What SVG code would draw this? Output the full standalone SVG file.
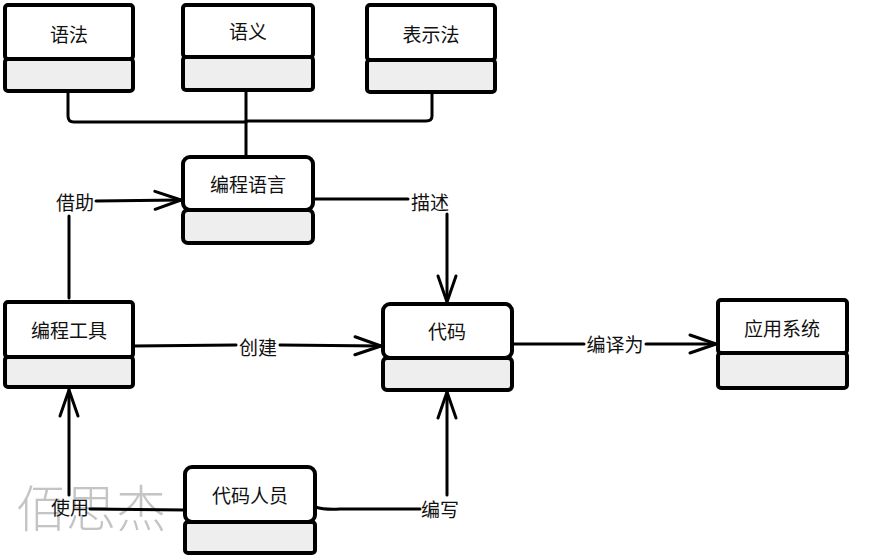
<svg xmlns="http://www.w3.org/2000/svg" width="873" height="556" viewBox="0 0 873 556">
<style>
.box{fill:#fff;stroke:#000;stroke-width:4;stroke-linejoin:round}
.low{fill:#eeeeee;stroke:#000;stroke-width:4;stroke-linejoin:round}
.t{font-family:"Noto Sans CJK SC","Noto Sans",sans-serif;font-size:19px;fill:#111;text-anchor:middle;dominant-baseline:central}
.c{fill:none;stroke:#000;stroke-width:3;stroke-linecap:round;stroke-linejoin:round}
.wm{font-family:"Noto Sans CJK SC","Noto Sans",sans-serif;font-size:50px;fill:#c4c4c4;font-weight:300}
</style>
<defs>
<marker id="arr" markerWidth="32" markerHeight="22" refX="28" refY="11" orient="auto" markerUnits="userSpaceOnUse">
<path d="M2,2 L28,11 L2,20" fill="none" stroke="#000" stroke-width="3" stroke-linecap="round" stroke-linejoin="round"/>
</marker>
</defs>
<rect width="873" height="556" fill="#fff"/>
<text class="wm" x="16" y="527">佰思杰</text>
<g id="connectors">
<path class="c" d="M68,91 L68,116 Q68,122 74,122 L246,122"/>
<path class="c" d="M432,92 L432,116 Q432,121 426,121 L246,121"/>
<path class="c" d="M246,90 L246,157" stroke-width="4"/>
<path class="c" d="M69,298 L69,216"/>
<path class="c" d="M96,201 L181,200" marker-end="url(#arr)"/>
<path class="c" d="M313,199 L408,199"/>
<path class="c" d="M447,214 L447,302" marker-end="url(#arr)"/>
<path class="c" d="M133,346 L236,345"/>
<path class="c" d="M280,345 L381,346" marker-end="url(#arr)"/>
<path class="c" d="M512,344 L584,344"/>
<path class="c" d="M646,344 L716,344" marker-end="url(#arr)"/>
<path class="c" d="M69,495 L69,390" marker-end="url(#arr)"/>
<path class="c" d="M90,509 L185,510"/>
<path class="c" d="M315,507 Q325,510 340,509 L420,509"/>
<path class="c" d="M447,495 L447,392" marker-end="url(#arr)"/>
<text class="t" x="75" y="201">借助</text>
<text class="t" x="430" y="201">描述</text>
<text class="t" x="258" y="346">创建</text>
<text class="t" x="615" y="343">编译为</text>
<text class="t" x="70" y="506">使用</text>
<text class="t" x="440" y="508">编写</text>
</g>
<g id="n-yufa">
<rect class="low" x="5" y="59" width="128" height="32" rx="3"/>
<rect class="box" x="5" y="5" width="128" height="54" rx="3"/>
<text class="t" x="69" y="33">语法</text>
</g>
<g id="n-yuyi">
<rect class="low" x="183" y="57" width="130" height="33" rx="3"/>
<rect class="box" x="183" y="5" width="130" height="52" rx="3"/>
<text class="t" x="248" y="30">语义</text>
</g>
<g id="n-biaoshifa">
<rect class="low" x="367" y="60" width="128" height="32" rx="3"/>
<rect class="box" x="367" y="5" width="128" height="55" rx="3"/>
<text class="t" x="431" y="33">表示法</text>
</g>
<g id="n-bianchengyuyan">
<rect class="low" x="183" y="210" width="130" height="33" rx="5"/>
<rect class="box" x="183" y="157" width="130" height="53" rx="7"/>
<text class="t" x="248" y="183">编程语言</text>
</g>
<g id="n-bianchenggongju">
<rect class="low" x="5" y="357" width="128" height="30" rx="3"/>
<rect class="box" x="5" y="302" width="128" height="55" rx="3"/>
<text class="t" x="69" y="329">编程工具</text>
</g>
<g id="n-daima">
<rect class="low" x="383" y="358" width="129" height="32" rx="4"/>
<rect class="box" x="383" y="304" width="129" height="54" rx="7"/>
<text class="t" x="447" y="330">代码</text>
</g>
<g id="n-yingyongxitong">
<rect class="low" x="718" y="353" width="129" height="35" rx="3"/>
<rect class="box" x="718" y="300" width="129" height="53" rx="3"/>
<text class="t" x="782" y="327">应用系统</text>
</g>
<g id="n-daimarenyuan">
<rect class="low" x="185" y="522" width="130" height="31" rx="3"/>
<rect class="box" x="185" y="467" width="130" height="55" rx="7"/>
<text class="t" x="250" y="494">代码人员</text>
</g>
</svg>
